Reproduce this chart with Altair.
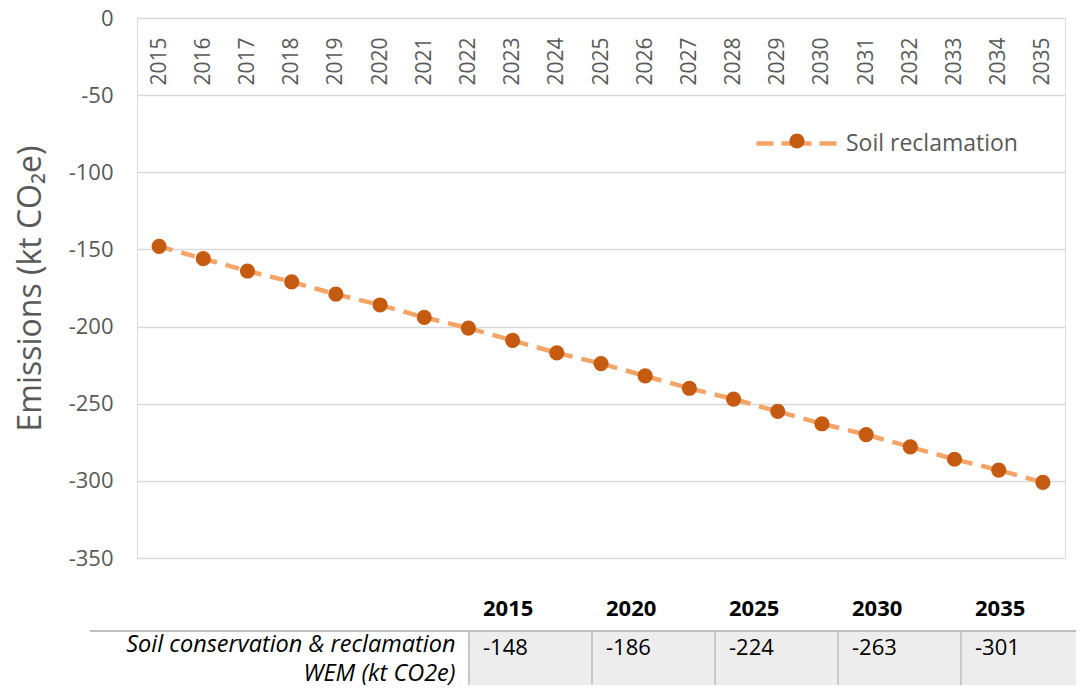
import altair as alt
import pandas as pd

# ---------------- data ----------------
years = ["2015", "2016", "2017", "2018", "2019", "2020", "2021", "2022", "2023", "2024", "2025",
         "2026", "2027", "2028", "2029", "2030", "2031", "2032", "2033", "2034", "2035"]
values = [-148, -156, -164, -171, -179, -186, -194, -201, -209, -217, -224,
          -232, -240, -247, -255, -263, -270, -278, -286, -293, -301]
series_name = "Soil reclamation"
y_ticks = [0, -50, -100, -150, -200, -250, -300, -350]

tbl_years = ["2015", "2020", "2025", "2030", "2035"]
tbl_values = [-148, -186, -224, -263, -301]
row_label_lines = ["Soil conservation & reclamation", "WEM (kt CO2e)"]

# ---------------- style / layout ----------------
FONT = "Open Sans"
GRAY = "#595959"
LINE_COLOR = "#F4A466"
DOT_COLOR = "#C55A11"
W, H = 928, 540
PAD = {"left": 129, "top": 10, "right": 11, "bottom": 127}
TBL_X0, TBL_X1 = 332, 947
BAND = (TBL_X1 - TBL_X0) / len(tbl_years)

df = pd.DataFrame({"year": years, "value": values, "series": series_name})
row_value = "|".join(row_label_lines)
tdf = pd.DataFrame({"tyear": tbl_years, "tvalue": tbl_values, "row": row_value})

# ---------------- main chart ----------------
X = alt.X(
    "year:O",
    scale=alt.Scale(type="point", padding=0.5),
    axis=alt.Axis(orient="bottom", offset=-H, labelAngle=270, labelPadding=19,
                  labelFontSize=21, labelColor=GRAY, labelFont=FONT,
                  domain=False, ticks=False, grid=False, title=None),
)
Y = alt.Y(
    "value:Q",
    scale=alt.Scale(domain=[-350, 0], nice=False, zero=False),
    axis=alt.Axis(values=y_ticks, orient="left", grid=True, gridColor="#d9d9d9", gridWidth=1.5,
                  domain=False, ticks=False, labelPadding=24, labelFontSize=22,
                  labelColor=GRAY, labelFont=FONT, labelExpr="toString(datum.value)",
                  title="Emissions (kt CO\u2082e)", titleFontSize=32, titleFontWeight="normal",
                  titleColor=GRAY, titleFont=FONT, titleX=-90, titleY=H / 2,
                  titleAngle=270, titleBaseline="bottom", titleAlign="center"),
)

base = alt.Chart(df).encode(x=X, y=Y)

line = base.mark_line(strokeDash=[14, 9], strokeWidth=4.5).encode(
    stroke=alt.Stroke(
        "series:N",
        scale=alt.Scale(range=[LINE_COLOR]),
        legend=alt.Legend(orient="none", legendX=617, legendY=83, title=None, padding=0,
                          symbolType="stroke", symbolSize=6400, symbolStrokeWidth=4.5,
                          symbolDash=[17, 8, 30, 8, 17, 200],
                          labelFontSize=23, labelColor=GRAY, labelFont=FONT,
                          labelOffset=7, labelLimit=400),
    )
)

points = base.mark_point(filled=True, size=230, opacity=1, shape="circle").encode(
    fill=alt.Fill(
        "series:N",
        scale=alt.Scale(domain=[series_name], range=[DOT_COLOR]),
        legend=alt.Legend(orient="none", legendX=652, legendY=115, title=None, padding=0,
                          symbolType="circle", symbolSize=230, symbolStrokeWidth=0,
                          labelExpr="''", labelFontSize=1, labelOffset=0, labelFont=FONT),
    )
)

main = alt.layer(line, points)

# ---------------- table below ----------------
tx_scale = alt.Scale(type="band", domain=tbl_years, range=[TBL_X0, TBL_X1], paddingInner=0, paddingOuter=0)
ty_scale = alt.Scale(type="band", domain=[row_value], range=[613, 673], paddingInner=0, paddingOuter=0)

tx_axis = alt.Axis(orient="top", offset=-612, labelAlign="left", labelOffset=14 - BAND / 2,
                   labelAngle=0, labelFontSize=22, labelFontWeight="bold", labelColor="black",
                   labelFont=FONT, labelPadding=10, domain=False, ticks=False, grid=False, title=None)
ty_axis = alt.Axis(orient="left", offset=-332, labelPadding=14, labelOffset=-16,
                   labelExpr="split(datum.label, '|')", labelFontSize=23.5,
                   labelFontStyle="italic", labelColor="black", labelFont=FONT,
                   labelLineHeight=29, labelLimit=600,
                   domain=False, ticks=False, grid=False, title=None)

cells = alt.Chart(tdf).mark_rect(fill="#ededed", stroke="#c9c9c9", strokeWidth=2).encode(
    x=alt.X("tyear:N", scale=tx_scale, axis=tx_axis),
    y=alt.Y("row:N", scale=ty_scale, axis=ty_axis),
)

cell_text = alt.Chart(tdf).transform_calculate(
    label="toString(datum.tvalue)"
).mark_text(align="left", baseline="middle", dx=14, dy=17,
            fontSize=22, color="black", font=FONT).encode(
    x=alt.X("tyear:N", scale=tx_scale, bandPosition=0, axis=tx_axis),
    y=alt.Y("row:N", scale=ty_scale, bandPosition=0, axis=ty_axis),
    text=alt.Text("label:N"),
)

border = alt.Chart(tdf).mark_rule(color="#bfbfbf", strokeWidth=2).encode(
    y=alt.Y("row:N", scale=ty_scale, bandPosition=0, axis=ty_axis),
    x=alt.value(-47),
    x2=alt.value(947),
)

table = alt.layer(cells, cell_text, border)

chart = (
    alt.layer(main, table)
    .resolve_scale(x="independent", y="independent")
    .resolve_axis(x="independent", y="independent")
    .properties(width=W, height=H, padding=PAD, autosize=alt.AutoSizeParams(type="none"))
    .configure_view(stroke=None)
    .configure(font=FONT)
)

chart.save("out.html", embed_options={"renderer": "svg", "actions": False})
